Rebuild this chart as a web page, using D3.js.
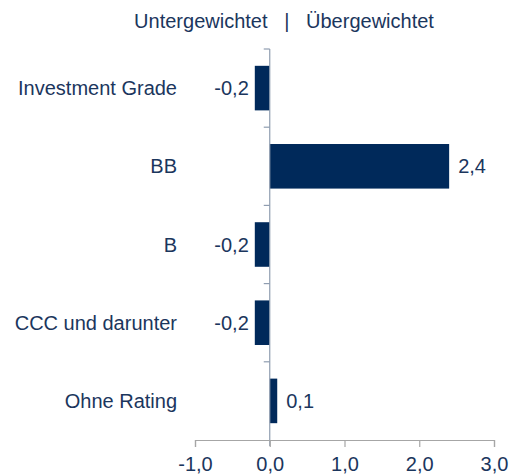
<!DOCTYPE html>
<html>
<head>
<meta charset="utf-8">
<script src="https://cdn.jsdelivr.net/npm/d3@7"></script>
<style>
  body { margin: 0; background: #fff; }
  text { font-family: "Liberation Sans", Arial, sans-serif; fill: #1b365d; }
</style>
</head>
<body>
<div id="chart"></div>
<script>
var categories = ["Investment Grade", "BB", "B", "CCC und darunter", "Ohne Rating"];
var values = [-0.2, 2.4, -0.2, -0.2, 0.1];
var xTicks = [-1, 0, 1, 2, 3];
var header = "Untergewichtet   |   Übergewichtet";

var fmt = function(v){ return v.toFixed(1).replace(".", ","); };

var df = categories.map(function(c, i){ return {cat: c, val: values[i]}; });

var width = 510, height = 474;
var yTop = 49, yBottom = 440;
var fontSize = "20px";

var svg = d3.select("#chart").append("svg")
    .attr("width", width)
    .attr("height", height);

var xScale = d3.scaleLinear()
    .domain([-1, 3])
    .range([195, 494]);

var yScale = d3.scaleBand()
    .domain(categories)
    .range([yTop, yBottom])
    .paddingInner(0.43)
    .paddingOuter(0.215);

// bars
svg.selectAll("rect")
  .data(df)
  .enter()
  .append("rect")
    .attr("x", function(d){ return xScale(Math.min(0, d.val)); })
    .attr("y", function(d){ return yScale(d.cat); })
    .attr("width", function(d){ return Math.abs(xScale(d.val) - xScale(0)); })
    .attr("height", yScale.bandwidth())
    .attr("fill", "#00295a");

// zero (category) axis line with ticks between categories
var axisColor = "#8f9db0";
svg.append("line")
    .attr("x1", xScale(0)).attr("x2", xScale(0))
    .attr("y1", yTop).attr("y2", yBottom + 6)
    .attr("stroke", axisColor).attr("stroke-width", 1.2);

var sepY = d3.range(categories.length).map(function(i){ return yTop + i * (yBottom - yTop) / categories.length; });
svg.selectAll(".ctick")
  .data(sepY)
  .enter()
  .append("line")
    .attr("x1", xScale(0) - 6).attr("x2", xScale(0))
    .attr("y1", function(d){ return d; }).attr("y2", function(d){ return d; })
    .attr("stroke", axisColor).attr("stroke-width", 1.2);

// x axis
var xAxis = d3.axisBottom(xScale)
    .tickValues(xTicks)
    .tickSize(7)
    .tickFormat(fmt);

var g = svg.append("g")
    .attr("transform", "translate(0," + yBottom + ")")
    .call(xAxis);
g.select(".domain").attr("stroke", "#a6a6a6").attr("stroke-width", 1.2);
g.selectAll(".tick line").attr("stroke", "#a6a6a6").attr("stroke-width", 1.2);
g.selectAll(".tick text")
    .attr("y", 24)
    .attr("dy", "0.35em")
    .style("font-size", fontSize)
    .style("font-family", "Liberation Sans, Arial, sans-serif")
    .attr("fill", "#1b365d");

// category labels
svg.selectAll(".cat")
  .data(df)
  .enter()
  .append("text")
    .attr("x", 177)
    .attr("y", function(d){ return yScale(d.cat) + yScale.bandwidth() / 2; })
    .attr("dy", "0.35em")
    .attr("text-anchor", "end")
    .style("font-size", fontSize)
    .text(function(d){ return d.cat; });

// value labels
svg.selectAll(".val")
  .data(df)
  .enter()
  .append("text")
    .attr("x", function(d){ return d.val < 0 ? xScale(d.val) - 6 : xScale(d.val) + 9; })
    .attr("y", function(d){ return yScale(d.cat) + yScale.bandwidth() / 2; })
    .attr("dy", "0.35em")
    .attr("text-anchor", function(d){ return d.val < 0 ? "end" : "start"; })
    .style("font-size", fontSize)
    .text(function(d){ return fmt(d.val); });

// header
svg.append("text")
    .attr("x", 284)
    .attr("y", 21)
    .attr("dy", "0.35em")
    .attr("text-anchor", "middle")
    .style("font-size", fontSize)
    .style("white-space", "pre")
    .attr("xml:space", "preserve")
    .text(header);
</script>
</body>
</html>
